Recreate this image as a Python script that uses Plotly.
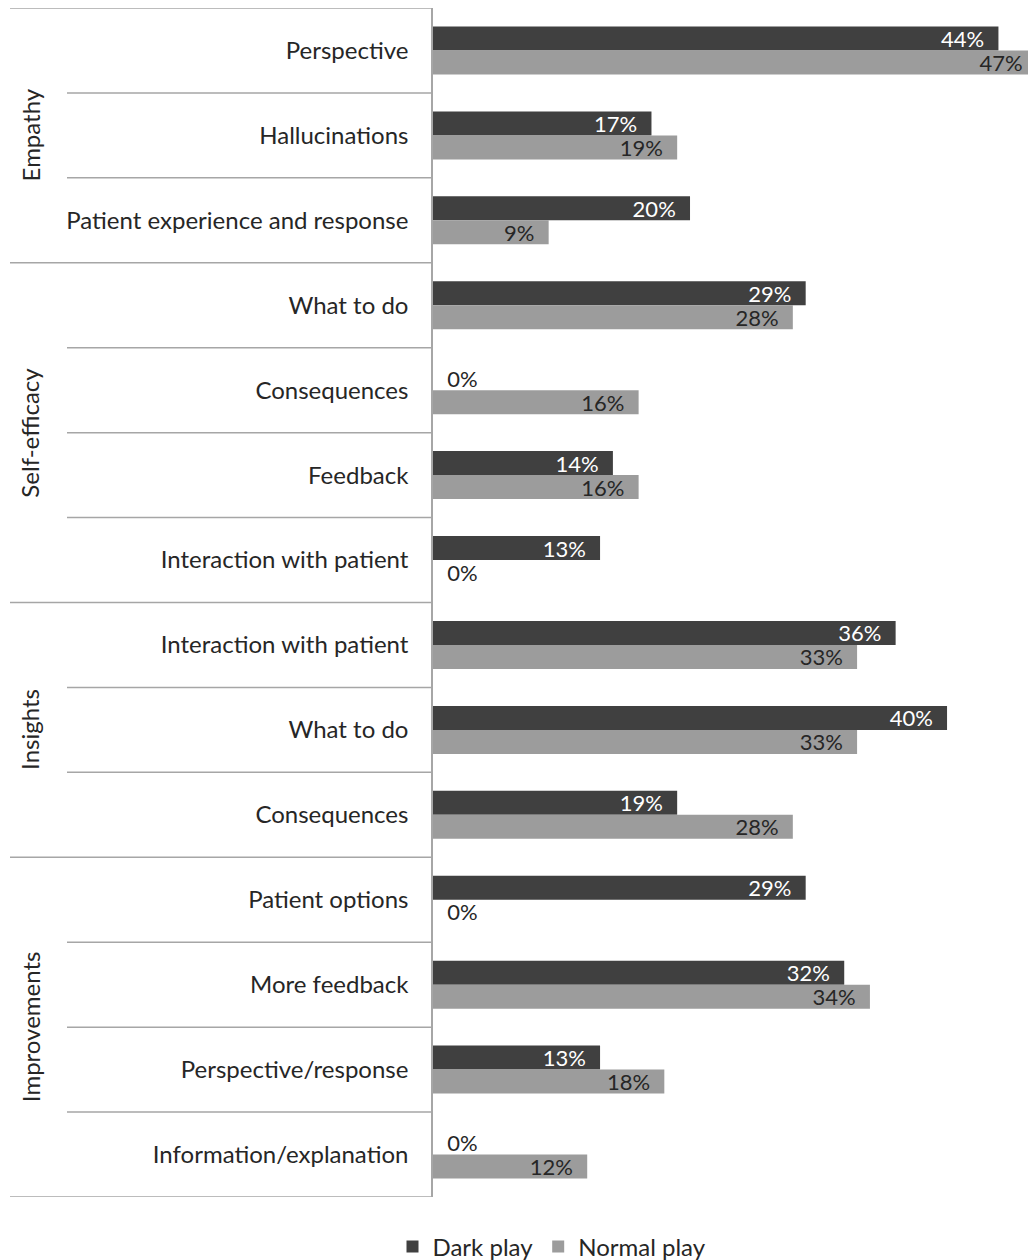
import plotly.graph_objects as go

groups = ["Empathy", "Self-efficacy", "Insights", "Improvements"]
group_sizes = [3, 4, 3, 4]
categories = ["Perspective", "Hallucinations", "Patient experience and response",
              "What to do", "Consequences", "Feedback", "Interaction with patient",
              "Interaction with patient", "What to do", "Consequences",
              "Patient options", "More feedback", "Perspective/response",
              "Information/explanation"]
dark_play = [44, 17, 20, 29, 0, 14, 13, 36, 40, 19, 29, 32, 13, 0]
normal_play = [47, 19, 9, 28, 16, 16, 0, 33, 33, 28, 0, 34, 18, 12]

W, H = 1028, 1260
ML, MR, MT, MB = 433, 0, 8, 63
PW = W - ML - MR
PH = H - MT - MB
FONT = "Lato"
FS = 24
LFS = 22
TXT = "#262626"
DARK = "#404040"
LIGHT = "#9c9c9c"
LINE = "#a6a6a6"

ys = list(range(len(categories)))
NB = "\u00a0"


def labels(vals):
    out = []
    for v in vals:
        if v == 0:
            out.append(NB * 2 + f"{v}%")
        else:
            out.append(f"{v}%" + NB * 2)
    return out


def positions(vals):
    return ["outside" if v == 0 else "inside" for v in vals]


fig = go.Figure()
fig.add_trace(go.Bar(
    name="Dark play", y=ys, x=dark_play, orientation="h",
    marker=dict(color=DARK, line=dict(width=0)),
    text=labels(dark_play), textposition=positions(dark_play),
    insidetextanchor="end",
    insidetextfont=dict(color="white", size=LFS, family=FONT),
    outsidetextfont=dict(color=TXT, size=LFS, family=FONT),
    cliponaxis=True,
))
fig.add_trace(go.Bar(
    name="Normal play", y=ys, x=normal_play, orientation="h",
    marker=dict(color=LIGHT, line=dict(width=0)),
    text=labels(normal_play), textposition=positions(normal_play),
    insidetextanchor="end",
    insidetextfont=dict(color=TXT, size=LFS, family=FONT),
    outsidetextfont=dict(color=TXT, size=LFS, family=FONT),
    cliponaxis=True,
))

shapes = []


def px_to_paper_x(px):
    return (px - ML) / PW


group_bounds = set()
acc = 0
for s in group_sizes:
    acc += s
    group_bounds.add(acc - 0.5)

for k in range(len(categories) + 1):
    yv = k - 0.5
    if k == 0 or k == len(categories) or yv in group_bounds:
        x0 = px_to_paper_x(10)
    else:
        x0 = px_to_paper_x(67)
    shapes.append(dict(type="line", xref="paper", yref="y", x0=x0, x1=0,
                       y0=yv, y1=yv, line=dict(color=LINE, width=1.5)))

annotations = []
start = 0
for g, s in zip(groups, group_sizes):
    mid = start + (s - 1) / 2
    annotations.append(dict(text=g, xref="paper", yref="y",
                            x=px_to_paper_x(30), y=mid, textangle=-90,
                            showarrow=False, xanchor="center", yanchor="middle",
                            font=dict(size=FS, color=TXT, family=FONT)))
    start += s

fig.update_layout(
    width=W, height=H,
    margin=dict(l=ML, r=MR, t=MT, b=MB, pad=0, autoexpand=False),
    paper_bgcolor="white", plot_bgcolor="white",
    barmode="group", bargap=0.435, bargroupgap=0,
    font=dict(family=FONT, size=FS, color=TXT),
    xaxis=dict(range=[0, 46.3], showgrid=False, zeroline=False,
               showticklabels=False, showline=False, fixedrange=True,
               automargin=False),
    yaxis=dict(range=[len(categories) - 0.5, -0.5], tickvals=ys,
               ticktext=categories, showgrid=False, zeroline=False,
               showline=True, linecolor=LINE, linewidth=1.5,
               ticks="", ticklabelstandoff=18, automargin=False,
               tickfont=dict(size=FS, color=TXT, family=FONT)),
    legend=dict(orientation="h", xref="container", yref="container",
                x=552 / W, xanchor="center",
                y=(H - 1247) / H, yanchor="middle",
                font=dict(size=FS, color=TXT, family=FONT),
                traceorder="normal", itemwidth=30),
    shapes=shapes,
    annotations=annotations,
    uniformtext=dict(mode="show", minsize=LFS),
)

fig.write_html("out.html")
